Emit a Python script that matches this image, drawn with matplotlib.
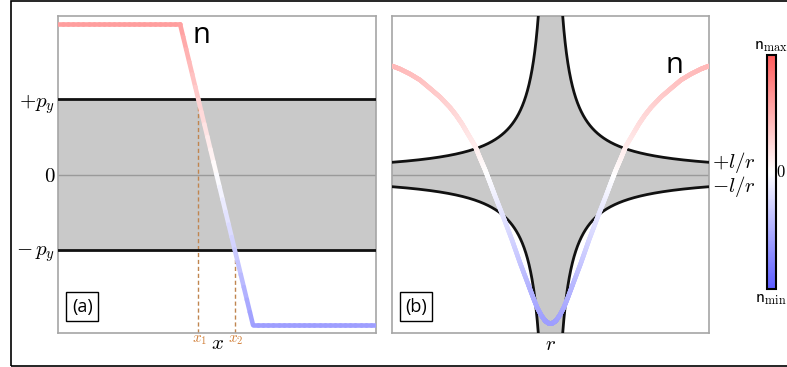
import numpy as np
import matplotlib
matplotlib.use("Agg")
import matplotlib.pyplot as plt
from matplotlib.collections import LineCollection
from matplotlib.colors import Normalize, ListedColormap
from matplotlib.patches import Rectangle
from matplotlib.cm import ScalarMappable
import matplotlib.transforms as mtransforms

plt.rcParams['mathtext.fontset'] = 'cm'
SANS = ['Open Sans', 'DejaVu Sans']

# ---- panel (a): profile of n across x, with the band |p| < p_y ----
a_x = [0.0, 0.384, 0.613, 1.0]
a_n = [2.0, 2.0, -2.0, -2.0]
p_y = 1.0
x_marks = [0.441, 0.556]          # x1 (n = +p_y) and x2 (n = -p_y)
x_mark_levels = [1.0, -1.0]
x_mark_labels = [r'$x_1$', r'$x_2$']
a_ytick_vals = [1.0, 0.0, -1.0]
a_ytick_labels = [r'$+p_y$', r'$0$', r'$-\,p_y$']

# ---- panel (b): radial profile of n with the band |p| < l/r ----
b_r = [-1.000, -0.950, -0.886, -0.823, -0.760, -0.697, -0.634, -0.596,
       -0.558, -0.521, -0.476, -0.445, -0.413, -0.382, -0.350, -0.300,
       -0.243, -0.192, -0.142, -0.110, -0.085, -0.060, -0.035, -0.015,
       0.000,
       0.015, 0.035, 0.060, 0.085, 0.110, 0.142, 0.192, 0.243,
       0.300, 0.350, 0.382, 0.413, 0.445, 0.476, 0.521, 0.558,
       0.596, 0.634, 0.697, 0.760, 0.823, 0.886, 0.950, 1.000]
b_n = [0.685, 0.666, 0.634, 0.596, 0.543, 0.489, 0.423, 0.375,
       0.319, 0.256, 0.180, 0.104, 0.030, -0.050, -0.135, -0.262,
       -0.413, -0.558, -0.690, -0.775, -0.838, -0.886, -0.922, -0.937,
       -0.940,
       -0.937, -0.922, -0.886, -0.838, -0.775, -0.690, -0.558, -0.413,
       -0.262, -0.135, -0.050, 0.030, 0.104, 0.180, 0.256, 0.319,
       0.375, 0.423, 0.489, 0.543, 0.596, 0.634, 0.666, 0.685]
l_ang = 0.077
b_tick_labels = [r'$+l/r$', r'$-l/r$']

cbar_labels = [r'$\mathsf{n}_{\max}$', r'$0$', r'$\mathsf{n}_{\min}$']

FILL = '#c9c9c9'
SPINE = '#a6a6a6'
DASH = '#c0854f'
MARK = '#d2813c'


def washed(cmap, strength):
    """Return cmap blended toward white (opaque)."""
    c = cmap(np.linspace(0, 1, 256))
    c[:, :3] = 1.0 - strength * (1.0 - c[:, :3])
    return ListedColormap(c)


line_cmap = washed(plt.get_cmap('bwr'), 0.38)
bar_cmap = washed(plt.get_cmap('bwr'), 0.64)


def gradient_line(ax, xs, ys, norm, lw=3.3, steps=24):
    """Draw a polyline whose colour follows its own y value."""
    segs, vals = [], []
    for x0, y0, x1, y1 in zip(xs[:-1], ys[:-1], xs[1:], ys[1:]):
        t = np.linspace(0.0, 1.0, steps + 1)
        sx = x0 + (x1 - x0) * t
        sy = y0 + (y1 - y0) * t
        for i in range(steps):
            segs.append([(sx[i], sy[i]), (sx[i + 1], sy[i + 1])])
            vals.append(0.5 * (sy[i] + sy[i + 1]))
    lc = LineCollection(segs, cmap=line_cmap, norm=norm, linewidths=lw,
                        capstyle='round', zorder=4)
    lc.set_array(np.asarray(vals))
    ax.add_collection(lc)


def style_axes(ax):
    for s in ax.spines.values():
        s.set_color(SPINE)
        s.set_linewidth(1.2)
    ax.tick_params(length=0)
    ax.set_xticks([])


def panel_tag(ax, text):
    ax.text(0.076, 0.083, text, transform=ax.transAxes, ha='center', va='center',
            fontsize=13, family=SANS,
            bbox=dict(boxstyle='square,pad=0.3', fc='white', ec='black', lw=1.0),
            zorder=6)


fig = plt.figure(figsize=(7.87, 3.67), dpi=100)

# outer frame
fig.patches.append(Rectangle((11 / 787, 1 / 367), 1.2, 365.5 / 367,
                             transform=fig.transFigure, fill=False,
                             ec='black', lw=1.2, clip_on=False))

# ---------------- panel (a) ----------------
axa = fig.add_axes([58 / 787, 1 - 333 / 367, 318 / 787, 317 / 367])
style_axes(axa)
axa.set_xlim(0, 1)
axa.set_ylim(-2.11, 2.11)
axa.axhspan(-p_y, p_y, color=FILL, lw=0, zorder=1)
axa.axhline(0, color='#9a9a9a', lw=1.0, zorder=2)
axa.axhline(p_y, color='#111111', lw=2.0, zorder=3)
axa.axhline(-p_y, color='#111111', lw=2.0, zorder=3)
for xm, lev in zip(x_marks, x_mark_levels):
    axa.plot([xm, xm], [-2.11, lev], ls=(0, (3, 2)), color=DASH, lw=1.0,
             zorder=2)
gradient_line(axa, a_x, a_n, Normalize(-2.0, 2.0))
axa.set_yticks(a_ytick_vals)
axa.set_yticklabels(a_ytick_labels, fontsize=15)
axa.tick_params(axis='y', pad=2)
trans_a = mtransforms.blended_transform_factory(axa.transData, axa.transAxes)
for xm, lab in zip(x_marks, x_mark_labels):
    axa.text(xm + 0.004, -0.022, lab, transform=trans_a, ha='center', va='center',
             fontsize=11, color=MARK)
axa.text(0.503, -0.032, r'$x$', transform=axa.transAxes, ha='center',
         va='center', fontsize=15)
axa.text(0.45, 0.94, 'n', transform=axa.transAxes, ha='center', va='center',
         fontsize=21, family=SANS)
panel_tag(axa, '(a)')

# ---------------- panel (b) ----------------
axb = fig.add_axes([392 / 787, 1 - 333 / 367, 317 / 787, 317 / 367])
style_axes(axb)
axb.set_yticks([])
axb.set_xlim(-1, 1)
axb.set_ylim(-1, 1)
rr = np.linspace(-1.0, 1.0, 2000)      # even count: r = 0 is never hit
upper = l_ang / np.abs(rr)
axb.fill_between(rr, -upper, upper, color=FILL, lw=0, zorder=1)
for sgn in (-1, 1):
    side = (sgn * rr) > 0
    axb.plot(rr[side], upper[side], color='#111111', lw=2.0, zorder=3)
    axb.plot(rr[side], -upper[side], color='#111111', lw=2.0, zorder=3)
axb.axhline(0, color='#9a9a9a', lw=1.0, zorder=2)
gradient_line(axb, b_r, b_n, Normalize(-0.94, 0.94))
trans_b = mtransforms.blended_transform_factory(axb.transAxes, axb.transData)
for yv, lab in zip([l_ang, -l_ang], b_tick_labels):
    axb.text(1.01, yv, lab, transform=trans_b, ha='left', va='center',
             fontsize=15)
axb.text(0.5, -0.035, r'$r$', transform=axb.transAxes, ha='center',
         va='center', fontsize=15)
axb.text(0.89, 0.845, 'n', transform=axb.transAxes, ha='center', va='center',
         fontsize=21, family=SANS)
panel_tag(axb, '(b)')

# ---------------- colour bar ----------------
cax = fig.add_axes([767 / 787, 1 - 289 / 367, 9 / 787, 234 / 367])
sm = ScalarMappable(norm=Normalize(-1, 1), cmap=bar_cmap)
cb = fig.colorbar(sm, cax=cax)
cb.set_ticks([])
cb.outline.set_linewidth(1.5)
cb.outline.set_edgecolor('black')
fig.text(771 / 787, 1 - 45 / 367, cbar_labels[0], ha='center', va='center',
         fontsize=12.5)
fig.text(781 / 787, 1 - 172 / 367, cbar_labels[1], ha='center', va='center',
         fontsize=12)
fig.text(771 / 787, 1 - 298 / 367, cbar_labels[2], ha='center', va='center',
         fontsize=12.5)

fig.savefig('out.png', dpi=100)
